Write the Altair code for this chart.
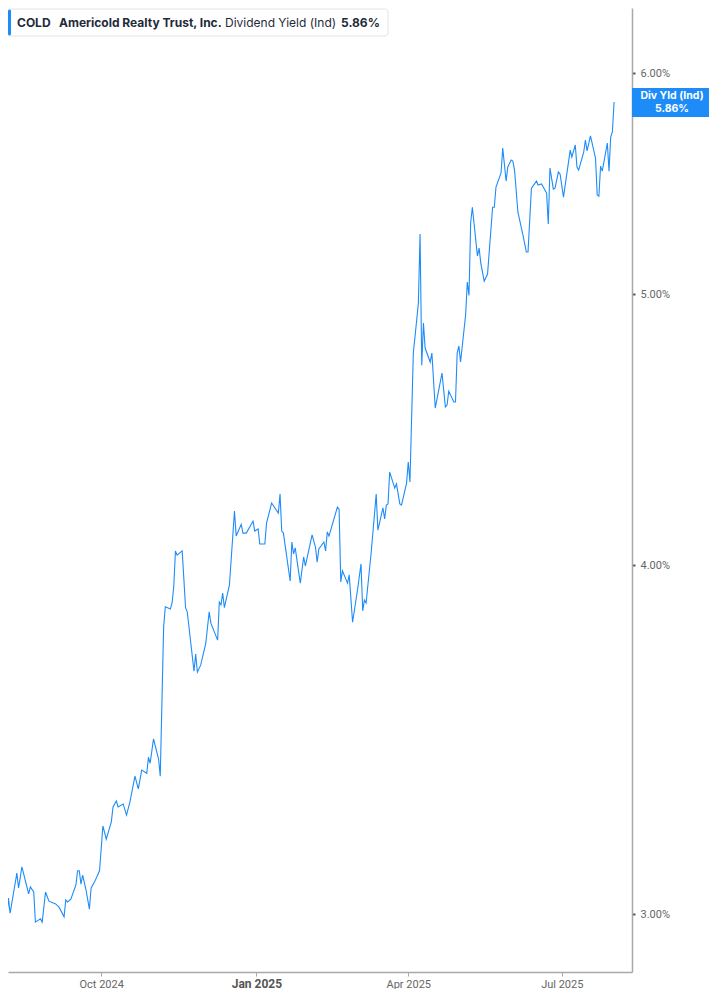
import altair as alt
import pandas as pd

ticker = "COLD"
company = "Americold Realty Trust, Inc."
metric = "Dividend Yield (Ind)"
badge_title = "Div Yld (Ind)"

dates = [
    "2024-08-02", "2024-08-05", "2024-08-06", "2024-08-07", "2024-08-08", "2024-08-12", "2024-08-13", "2024-08-15", "2024-08-19", "2024-08-20",
    "2024-08-22", "2024-08-23", "2024-08-26", "2024-08-27", "2024-08-29", "2024-08-31", "2024-09-04", "2024-09-06", "2024-09-09", "2024-09-10",
    "2024-09-11", "2024-09-13", "2024-09-16", "2024-09-17", "2024-09-18", "2024-09-19", "2024-09-20", "2024-09-22", "2024-09-24", "2024-09-25",
    "2024-09-27", "2024-09-30", "2024-10-02", "2024-10-04", "2024-10-07", "2024-10-08", "2024-10-10", "2024-10-11", "2024-10-14", "2024-10-16",
    "2024-10-18", "2024-10-21", "2024-10-23", "2024-10-25", "2024-10-28", "2024-10-29", "2024-10-30", "2024-11-01", "2024-11-04", "2024-11-05",
    "2024-11-07", "2024-11-08", "2024-11-11", "2024-11-12", "2024-11-13", "2024-11-14", "2024-11-15", "2024-11-18", "2024-11-20", "2024-11-21",
    "2024-11-25", "2024-11-26", "2024-11-27", "2024-11-29", "2024-12-02", "2024-12-04", "2024-12-05", "2024-12-09", "2024-12-10", "2024-12-11",
    "2024-12-12", "2024-12-13", "2024-12-16", "2024-12-19", "2024-12-20", "2024-12-23", "2024-12-24", "2024-12-26", "2024-12-30", "2024-12-31",
    "2025-01-02", "2025-01-03", "2025-01-06", "2025-01-07", "2025-01-10", "2025-01-14", "2025-01-15", "2025-01-16", "2025-01-17", "2025-01-21",
    "2025-01-22", "2025-01-23", "2025-01-24", "2025-01-27", "2025-01-29", "2025-01-30", "2025-02-03", "2025-02-05", "2025-02-06", "2025-02-07",
    "2025-02-10", "2025-02-11", "2025-02-12", "2025-02-13", "2025-02-18", "2025-02-19", "2025-02-20", "2025-02-21", "2025-02-24", "2025-02-25",
    "2025-02-27", "2025-03-02", "2025-03-04", "2025-03-05", "2025-03-06", "2025-03-07", "2025-03-10", "2025-03-13", "2025-03-14", "2025-03-17",
    "2025-03-18", "2025-03-19", "2025-03-20", "2025-03-21", "2025-03-24", "2025-03-25", "2025-03-27", "2025-03-28", "2025-03-31", "2025-04-01",
    "2025-04-02", "2025-04-04", "2025-04-06", "2025-04-07", "2025-04-08", "2025-04-09", "2025-04-10", "2025-04-11", "2025-04-14", "2025-04-15",
    "2025-04-17", "2025-04-21", "2025-04-23", "2025-04-24", "2025-04-25", "2025-04-28", "2025-04-29", "2025-04-30", "2025-05-01", "2025-05-02",
    "2025-05-05", "2025-05-06", "2025-05-07", "2025-05-08", "2025-05-09", "2025-05-12", "2025-05-13", "2025-05-14", "2025-05-16", "2025-05-18",
    "2025-05-21", "2025-05-22", "2025-05-23", "2025-05-26", "2025-05-27", "2025-05-29", "2025-05-30", "2025-06-01", "2025-06-02", "2025-06-03",
    "2025-06-05", "2025-06-08", "2025-06-10", "2025-06-11", "2025-06-13", "2025-06-16", "2025-06-17", "2025-06-19", "2025-06-22", "2025-06-23",
    "2025-06-24", "2025-06-26", "2025-06-27", "2025-06-29", "2025-06-30", "2025-07-02", "2025-07-06", "2025-07-07", "2025-07-09", "2025-07-10",
    "2025-07-11", "2025-07-14", "2025-07-15", "2025-07-16", "2025-07-18", "2025-07-21", "2025-07-22", "2025-07-23", "2025-07-24", "2025-07-25",
    "2025-07-28", "2025-07-29", "2025-07-30", "2025-07-31", "2025-08-01",
]

values = [
    2.936, 3.022, 2.988, 3.040, 3.002, 3.103, 3.065, 3.119, 3.050, 3.068,
    3.055, 2.980, 2.988, 2.980, 3.055, 3.032, 3.025, 3.017, 2.993, 3.035,
    3.030, 3.037, 3.073, 3.109, 3.109, 3.075, 3.098, 3.060, 3.012, 3.065,
    3.080, 3.109, 3.226, 3.191, 3.237, 3.277, 3.293, 3.277, 3.285, 3.255,
    3.290, 3.361, 3.326, 3.378, 3.369, 3.414, 3.397, 3.466, 3.409, 3.361,
    3.801, 3.865, 3.858, 3.877, 3.929, 4.047, 4.033, 4.047, 3.862, 3.849,
    3.665, 3.717, 3.662, 3.684, 3.751, 3.849, 3.813, 3.760, 3.880, 3.871,
    3.909, 3.862, 3.935, 4.182, 4.097, 4.137, 4.107, 4.107, 4.148, 4.114,
    4.121, 4.070, 4.070, 4.141, 4.210, 4.175, 4.241, 4.114, 4.107, 3.948,
    4.077, 4.037, 4.057, 3.941, 4.027, 3.997, 4.101, 4.060, 4.010, 4.054,
    4.077, 4.047, 4.111, 4.097, 4.196, 4.189, 3.945, 3.981, 3.941, 3.968,
    3.816, 3.922, 4.004, 3.852, 3.886, 3.877, 4.040, 4.241, 4.117, 4.193,
    4.155, 4.203, 4.207, 4.319, 4.262, 4.277, 4.207, 4.203, 4.280, 4.355,
    4.284, 4.764, 4.896, 4.965, 5.255, 4.717, 4.884, 4.784, 4.729, 4.764,
    4.553, 4.686, 4.557, 4.564, 4.617, 4.576, 4.576, 4.764, 4.792, 4.729,
    4.916, 5.051, 4.996, 5.307, 5.373, 5.161, 5.195, 5.131, 5.055, 5.085,
    5.373, 5.373, 5.463, 5.527, 5.641, 5.490, 5.554, 5.586, 5.581, 5.540,
    5.351, 5.251, 5.178, 5.178, 5.458, 5.490, 5.472, 5.477, 5.436, 5.299,
    5.549, 5.454, 5.458, 5.531, 5.522, 5.418, 5.632, 5.600, 5.656, 5.554,
    5.540, 5.623, 5.679, 5.628, 5.698, 5.595, 5.427, 5.422, 5.558, 5.535,
    5.665, 5.535, 5.693, 5.717, 5.86,
]

y_ticks = [3, 4, 5, 6]
x_ticks = ["2024-10-01", "2025-01-01", "2025-04-01", "2025-07-01"]

BLUE = "#1e8cf8"
AXIS_GRAY = "#a9a9a9"
HDR_TEXT = "#1f2a3a"

df = pd.DataFrame({"date": dates, "yield": values})
last_label = f"{values[-1]:.2f}%"
last = pd.DataFrame({"date": [dates[-1]], "yield": [values[-1]],
                     "lbl": [badge_title + "\n" + last_label]})


def dt(s, hours=0):
    y, m, d = s.split("-")
    return alt.DateTime(year=int(y), month=int(m), date=int(d), hours=hours, utc=True)


x_scale = alt.Scale(type="utc", domain=[dt("2024-08-06", 18), dt("2025-08-11", 15)])
y_scale = alt.Scale(type="log", domain=[2.860, 6.332], nice=False, zero=False)

jan_test = "utcmonth(datum.value) == 0"

x_axis = alt.Axis(
    values=[dt(s) for s in x_ticks],
    labelExpr="utcFormat(datum.value, '%b %Y')",
    grid=False,
    domainColor=AXIS_GRAY, domainWidth=1.5,
    tickColor=AXIS_GRAY, tickSize=4, tickWidth=1,
    labelFont="Roboto",
    labelFontSize={"condition": {"test": jan_test, "value": 12}, "value": 11},
    labelFontWeight={"condition": {"test": jan_test, "value": "bold"}, "value": "normal"},
    labelColor={"condition": {"test": jan_test, "value": "#555555"}, "value": "#666666"},
    labelPadding=2, labelFlush=False, labelOverlap=False,
)

y_axis = alt.Axis(
    orient="right",
    values=y_ticks,
    labelExpr="format(datum.value, '.2f') + '%'",
    grid=False,
    domainColor=AXIS_GRAY, domainWidth=1.5,
    tickColor="#555555", tickSize=3, tickWidth=2,
    labelFont="Roboto", labelFontSize=11, labelColor="#666666",
    labelPadding=5, labelBaseline="middle",
)

X = alt.X("date:T", scale=x_scale, axis=x_axis, title=None)
Y = alt.Y("yield:Q", scale=y_scale, axis=y_axis, title=None)

line = alt.Chart(df).mark_line(color=BLUE, strokeWidth=1.1, clip=True).encode(x=X, y=Y)

badge_rect = alt.Chart(last).mark_rect(color=BLUE, yOffset=-14, y2Offset=15).encode(
    x=alt.value(624), x2=alt.value(701), y=Y, y2="yield:Q",
)
badge_text = alt.Chart(last).mark_text(
    color="white", font="Inter", fontWeight="bold", fontSize=10.5, lineHeight=13,
    lineBreak="\n", align="center", baseline="middle", dy=-6).encode(
    x=alt.value(664), y=Y, text="lbl:N")

one = pd.DataFrame({"k": [0]})
hdr_box = alt.Chart(one).mark_rect(fill="white", stroke="#e4e4e4", strokeWidth=1, cornerRadius=3).encode(
    x=alt.value(0.5), x2=alt.value(380), y=alt.value(1), y2=alt.value(28))
hdr_bar = alt.Chart(one).mark_rect(color=BLUE, cornerRadius=1.5).encode(
    x=alt.value(0), x2=alt.value(3), y=alt.value(1.5), y2=alt.value(27.5))


def hdr_text(t, xpos, weight):
    return alt.Chart(pd.DataFrame({"t": [t]})).mark_text(
        font="Inter", fontSize=12, fontWeight=weight, color=HDR_TEXT,
        align="left", baseline="middle").encode(
        x=alt.value(xpos), y=alt.value(15), text="t:N")


header = [
    hdr_box, hdr_bar,
    hdr_text(ticker, 9, "bold"),
    hdr_text(company, 51, "bold"),
    hdr_text(metric, 217, "normal"),
    hdr_text(last_label, 333, "bold"),
]

chart = alt.layer(line, badge_rect, badge_text, *header).properties(
    width=624, height=964,
    autosize=alt.AutoSizeParams(type="none"),
    padding={"left": 0, "top": 0, "right": 77, "bottom": 17},
    background="white",
).configure_view(strokeWidth=0)

chart.save("out.html", embed_options={"renderer": "svg", "actions": False})
